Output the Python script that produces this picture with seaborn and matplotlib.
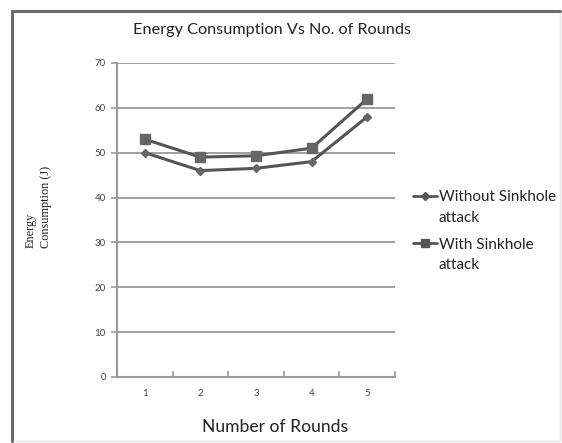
import matplotlib
matplotlib.use("Agg")
import matplotlib.pyplot as plt
import seaborn as sns
import numpy as np
import pandas as pd
from matplotlib.lines import Line2D
from matplotlib.patches import Rectangle
from matplotlib.legend_handler import HandlerLine2D

rounds = [1, 2, 3, 4, 5]
without_sinkhole = [50, 46, 46.5, 48, 58]
with_sinkhole = [53, 49, 49.3, 51, 62]
series_names = ["Without Sinkhole\nattack", "With Sinkhole\nattack"]
y_ticks = [0, 10, 20, 30, 40, 50, 60, 70]

df = pd.DataFrame({
    "Round": rounds * 2,
    "Energy": without_sinkhole + with_sinkhole,
    "Series": [series_names[0]] * 5 + [series_names[1]] * 5,
})


class RaisedLine(HandlerLine2D):
    """Legend handle drawn level with the first line of a two-line label."""

    def __init__(self, lift, **kw):
        super().__init__(**kw)
        self.lift = lift

    def create_artists(self, legend, orig_handle, xdescent, ydescent, width,
                       height, fontsize, trans):
        arts = super().create_artists(legend, orig_handle, xdescent, ydescent,
                                      width, height, fontsize, trans)
        for a in arts:
            a.set_ydata(np.asarray(a.get_ydata(), dtype=float) + self.lift)
        return arts


sns.set_theme(style="white")
plt.rcParams["font.family"] = ["Lato", "DejaVu Sans"]

fig = plt.figure(figsize=(5.62, 4.43), dpi=100)
ax = fig.add_axes([0.208, 0.149, 0.495, 0.709])

line_col = "#555555"
sns.lineplot(
    data=df, x="Round", y="Energy", hue="Series", style="Series",
    palette=[line_col, line_col], markers=["D", "s"], dashes=False,
    markersize=0, linewidth=2.2, ax=ax, legend=False,
)
# markers drawn separately to size the diamond and square differently
ax.plot(rounds, without_sinkhole, ls="none", marker="D", ms=4.5, color="#666666")
ax.plot(rounds, with_sinkhole, ls="none", marker="s", ms=7.5, color="#666666")

ax.set_xlim(0.5, 5.5)
ax.set_ylim(0, 70)
ax.set_yticks(y_ticks)
ax.set_xticks(rounds)
ax.set_xticks([0.5, 1.5, 2.5, 3.5, 4.5, 5.5], minor=True)
ax.yaxis.grid(True, color="#999999", linewidth=1.3)
ax.set_axisbelow(True)
for s in ["top", "right"]:
    ax.spines[s].set_visible(False)
ax.spines["left"].set_color("#9a9a9a")
ax.spines["left"].set_linewidth(1.5)
ax.spines["bottom"].set_color("#9a9a9a")
ax.spines["bottom"].set_linewidth(1.5)
ax.tick_params(axis="x", which="major", length=0, pad=9, labelsize=7, labelcolor="#444444")
ax.tick_params(axis="x", which="minor", length=4, color="#9a9a9a", width=1.2,
               direction="in", bottom=True)
ax.tick_params(axis="y", which="major", length=4, color="#9a9a9a", width=1.2, left=True,
               pad=4, labelsize=7, labelcolor="#444444")

ax.set_xlabel("Number of Rounds", fontsize=12.6, color="#222222")
ax.xaxis.set_label_coords(0.568, -0.134)
ax.set_ylabel("")
fig.text(0.484, 0.932, "Energy Consumption Vs No. of Rounds", fontsize=11.7,
         color="#222222", ha="center", va="center")
fig.text(0.068, 0.532, "Energy\nConsumption (J)", rotation=90, fontsize=8.8,
         family=["Liberation Serif"], color="#222222", ha="center", va="center",
         multialignment="left", linespacing=1.35)

handles = [
    Line2D([], [], color=line_col, lw=2, marker="D", ms=4),
    Line2D([], [], color=line_col, lw=2, marker="s", ms=6),
]
leg = fig.legend(handles, series_names, loc="upper left", bbox_to_anchor=(0.722, 0.588),
                 frameon=False, fontsize=11, handlelength=1.55, handletextpad=0.1,
                 labelspacing=0.85, labelcolor="#222222", borderpad=0,
                 handler_map={Line2D: RaisedLine(lift=8.5)})
for t in leg.get_texts():
    t.set_linespacing(1.6)

# chart border
fig.patches.append(Rectangle((0.021, 0.005), 0.975, 0.97, transform=fig.transFigure,
                             fill=False, edgecolor="#e4e4e4", linewidth=1))
fig.add_artist(Line2D([0.021, 0.021], [0.005, 0.975], transform=fig.transFigure,
                      color="#6a6a6a", lw=2.2))
fig.add_artist(Line2D([0.021, 0.996], [0.975, 0.975], transform=fig.transFigure,
                      color="#6a6a6a", lw=2.2))

fig.savefig("out.png", dpi=100)
